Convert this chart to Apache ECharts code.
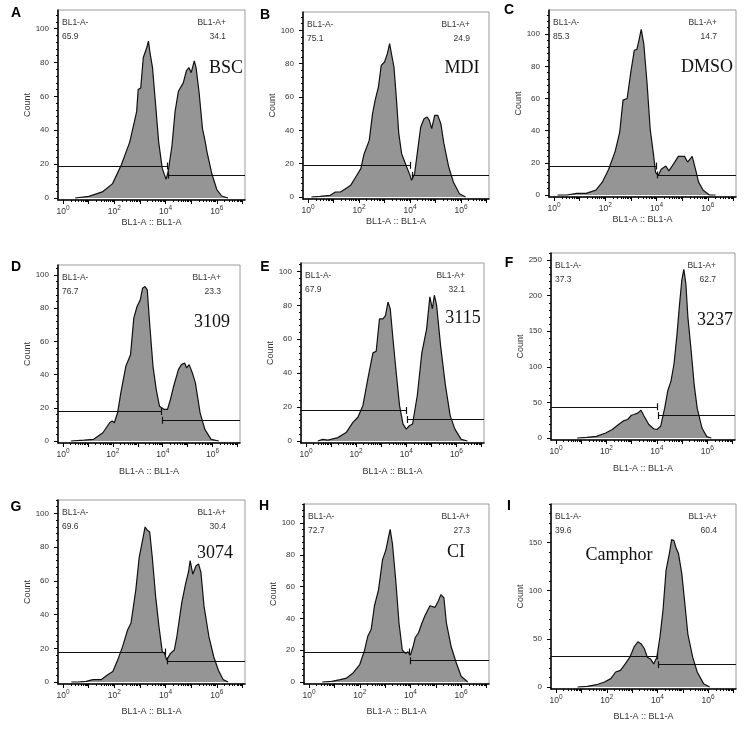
<!DOCTYPE html>
<html>
<head>
<meta charset="utf-8">
<script src="https://cdn.jsdelivr.net/npm/echarts@6/dist/echarts.min.js"></script>
<style>
html, body { margin: 0; padding: 0; background: #fff; }
#main { width: 756px; height: 739px; }
</style>
</head>
<body>
<div id="main"></div>
<script>
// panel letters, sample names and gate percentages
var letters = ['A', 'B', 'C', 'D', 'E', 'F', 'G', 'H', 'I'];
var samples = ['BSC', 'MDI', 'DMSO', '3109', '3115', '3237', '3074', 'CI', 'Camphor'];
var negPct = ['65.9', '75.1', '85.3', '76.7', '67.9', '37.3', '69.6', '72.7', '39.6'];
var posPct = ['34.1', '24.9', '14.7', '23.3', '32.1', '62.7', '30.4', '27.3', '60.4'];

// gate: [split (log10 BL1-A), BL1-A- line height, BL1-A+ line height]
var gates = [
    [4.05, 18.9, 13.5], [4.02, 19, 13], [3.98, 18, 12.5],
    [3.94, 17.8, 12.5], [4.0, 18, 12.7], [4.0, 43.9, 31.6],
    [4.0, 17.8, 12.6], [3.95, 18.9, 13.4], [4.0, 32.2, 23.2]
];

// y axis range / tick step of each panel
var yMax = [111, 111, 115, 106, 105, 260, 108, 112, 190];
var yStep = [20, 20, 20, 20, 20, 50, 20, 20, 50];

// histograms: [log10(BL1-A), count]
var histBSC = [[0.47,0],[1.0,1],[1.53,3.6],[1.93,8.5],[2.27,19.5],[2.6,33],[2.87,51],[2.93,64],[3.03,65],[3.13,83],[3.27,89],[3.33,92.6],[3.4,85],[3.49,77],[3.6,57],[3.73,33],[3.87,17.5],[4.02,11],[4.1,15.5],[4.25,31],[4.37,51],[4.5,63],[4.69,68],[4.81,75],[4.91,77],[5.0,74],[5.12,81],[5.19,77],[5.31,62],[5.44,41],[5.55,33],[5.62,27],[5.81,14],[6.0,5],[6.19,1.2],[6.44,0]];
var histMDI = [[0.13,0],[0.47,0.4],[0.87,1],[1.07,3],[1.27,3],[1.47,5],[1.67,7],[1.87,12],[2.07,17],[2.2,26],[2.4,34],[2.53,50],[2.63,58],[2.76,66],[2.87,79],[3.0,81],[3.11,86],[3.2,92],[3.27,86],[3.37,78],[3.47,58],[3.56,38],[3.67,26],[3.87,18],[4.0,13],[4.06,10],[4.18,14],[4.3,28],[4.42,42],[4.55,47],[4.67,48],[4.76,46],[4.85,41],[4.97,49],[5.09,49],[5.21,44],[5.33,32],[5.52,18],[5.7,9],[5.94,2],[6.18,0]];
var histDMSO = [[0.13,0],[0.5,0],[0.88,1],[1.25,1],[1.63,3],[1.88,8],[2.13,16],[2.38,27],[2.56,39],[2.69,59],[2.85,60],[3.0,77],[3.13,90],[3.23,90.5],[3.31,96],[3.4,103],[3.5,94],[3.63,69],[3.75,41],[3.88,25],[3.96,14],[4.06,12],[4.18,16],[4.36,18],[4.48,15],[4.67,19.5],[4.85,24],[5.09,24],[5.21,20.5],[5.39,24],[5.52,16],[5.64,8],[5.82,3],[6.06,0],[6.3,0]];
var hist3109 = [[0.32,0],[0.84,0.5],[1.23,1],[1.6,5],[1.87,11],[1.97,12],[2.06,11],[2.19,17],[2.32,29],[2.52,45],[2.71,52],[2.84,74],[2.97,81],[3.1,85],[3.19,92],[3.29,93],[3.38,91],[3.48,70],[3.61,45],[3.74,31],[3.87,21],[3.94,21],[4.06,19],[4.19,19],[4.31,25],[4.44,33],[4.63,43],[4.75,46],[4.88,47],[4.96,44],[5.06,46],[5.19,41],[5.31,35],[5.5,17],[5.69,7],[5.94,1],[6.25,0]];
var hist3115 = [[0.47,0],[0.67,1],[0.87,0.5],[1.27,2],[1.6,5],[1.87,11],[2.07,14],[2.27,21],[2.47,37],[2.67,52],[2.8,53],[2.93,72],[3.07,72],[3.17,74],[3.27,82],[3.36,78],[3.47,60],[3.6,40],[3.73,21],[3.87,10],[4.0,7],[4.12,9],[4.25,10],[4.44,27],[4.62,52],[4.81,66],[4.94,85],[5.04,78],[5.12,86],[5.21,80],[5.37,56],[5.56,33],[5.75,15],[5.94,7],[6.19,1],[6.44,0]];
var hist3237 = [[0.84,0],[1.22,1],[1.6,2.4],[1.97,7],[2.23,12],[2.48,19],[2.67,24],[2.84,26],[2.99,32],[3.09,33],[3.24,35],[3.37,39],[3.49,31],[3.68,19],[3.87,13],[4.0,12],[4.15,16.5],[4.31,42],[4.43,66],[4.56,80],[4.68,104],[4.8,146],[4.89,184],[4.99,222],[5.07,237],[5.15,217],[5.23,170],[5.36,123],[5.48,75],[5.6,42],[5.79,14],[5.98,2],[6.16,0]];
var hist3074 = [[0.32,0],[0.58,0],[0.9,0.4],[1.16,1.4],[1.48,1.4],[1.74,4.3],[1.94,6.3],[2.13,13],[2.32,21],[2.52,31],[2.65,35],[2.71,35],[2.84,55],[2.97,74],[3.1,84],[3.2,92],[3.29,90],[3.38,89],[3.48,74],[3.61,51],[3.74,33],[3.87,18],[3.96,17],[4.04,13],[4.19,17],[4.34,19],[4.44,27],[4.63,47],[4.79,59],[4.89,65],[4.96,72],[5.06,64],[5.19,69],[5.29,70],[5.38,65],[5.5,45],[5.69,27],[5.88,15],[6.06,7],[6.25,1.4],[6.44,0]];
var histCI = [[0.52,0],[0.9,0.4],[1.23,1.5],[1.48,2.5],[1.74,5.7],[2.0,11],[2.19,20],[2.32,29],[2.45,33],[2.58,48],[2.74,58],[2.9,77],[3.03,83],[3.12,90],[3.2,96],[3.29,87],[3.42,64],[3.55,37],[3.68,20],[3.81,18],[3.9,19],[4.0,17],[4.1,22],[4.19,28],[4.32,31],[4.45,37],[4.58,42],[4.77,48],[4.97,47],[5.1,51],[5.2,55],[5.32,53],[5.42,37],[5.61,22],[5.81,12],[6.0,3.6],[6.26,0]];
var histCamphor = [[0.85,0],[1.23,0.7],[1.6,2.4],[1.91,5.2],[2.16,8.7],[2.35,15.6],[2.54,17.3],[2.73,24],[2.91,31],[3.08,41.6],[3.23,47],[3.35,45],[3.48,40],[3.6,31],[3.73,29],[3.85,24],[3.98,31],[4.1,52],[4.22,80],[4.34,121],[4.47,138.5],[4.56,153],[4.65,152],[4.74,144],[4.83,138.5],[4.96,118],[5.08,87],[5.2,55],[5.39,31],[5.57,15.6],[5.82,3.5],[6.06,0]];

var hists = [histBSC, histMDI, histDMSO, hist3109, hist3115, hist3237, hist3074, histCI, histCamphor];

// plot boxes (px)
var boxes = [
    {l: 58, t: 10, w: 187, h: 190, gap: 18},
    {l: 303, t: 12, w: 186, h: 187, gap: 18},
    {l: 549, t: 10, w: 187, h: 187, gap: 18},
    {l: 58, t: 265, w: 182, h: 178, gap: 24},
    {l: 301, t: 263, w: 183, h: 180, gap: 24},
    {l: 551, t: 253, w: 184, h: 187, gap: 24},
    {l: 58, t: 500, w: 187, h: 184, gap: 23},
    {l: 304, t: 504, w: 185, h: 180, gap: 23},
    {l: 551, t: 504, w: 185, h: 185, gap: 23}
];
var letterPos = [[16, 13], [265, 15], [509, 10], [16, 267], [265, 267], [509, 263], [16, 507], [264, 506], [509, 506]];
var namePos = [[226, 68], [462, 68], [707, 67], [212, 322], [463, 318], [715, 320], [215, 553], [456, 552], [619, 555]];

var X_MIN = -0.2, X_MAX = 7.1;
var sans = 'Liberation Sans, Arial, sans-serif';

var xMajor = [0, 1, 2, 3, 4, 5, 6, 7];
var xMinor = [];
for (var d = 0; d < 7; d++) {
    for (var k = 2; k < 10; k++) xMinor.push(d + Math.log10(k));
}

var grids = [], xAxes = [], yAxes = [], series = [], graphics = [];

for (var i = 0; i < 9; i++) {
    var b = boxes[i];
    var yMin = -2 * yMax[i] / b.h;
    var yMajor = [], yMinor = [];
    for (var v = 0; v <= yMax[i]; v += yStep[i]) yMajor.push(v);
    for (var v2 = 0; v2 <= yMax[i]; v2 += yStep[i] / 5) yMinor.push(v2);

    grids.push({
        left: b.l, top: b.t, width: b.w, height: b.h,
        show: true, borderColor: '#9a9a9a', borderWidth: 1
    });

    xAxes.push({
        gridIndex: i, type: 'value', min: X_MIN, max: X_MAX, position: 'bottom',
        name: 'BL1-A :: BL1-A', nameLocation: 'middle', nameGap: b.gap,
        nameTextStyle: {fontSize: 9, color: '#333', fontFamily: sans},
        axisLine: {onZero: false, lineStyle: {color: '#000', width: 1.5}},
        axisTick: {customValues: xMajor, length: 4, lineStyle: {color: '#000', width: 1}},
        axisLabel: {
            customValues: [0, 2, 4, 6], margin: 5,
            formatter: function (val) { return '{b|10}{e|' + val + '}'; },
            rich: {
                b: {fontSize: 8.5, color: '#333', fontFamily: sans},
                e: {fontSize: 6.5, color: '#333', fontFamily: sans, padding: [0, 0, 7, 0]}
            }
        },
        splitLine: {show: false}
    });
    xAxes.push({
        gridIndex: i, type: 'value', min: X_MIN, max: X_MAX, position: 'bottom', offset: 0,
        axisLine: {show: false, onZero: false},
        axisTick: {customValues: xMinor, length: 2, lineStyle: {color: '#000', width: 1}},
        axisLabel: {show: false},
        splitLine: {show: false}
    });

    yAxes.push({
        gridIndex: i, type: 'value', min: yMin, max: yMax[i], position: 'left',
        name: 'Count', nameLocation: 'middle', nameGap: 26,
        nameTextStyle: {fontSize: 9, color: '#333', fontFamily: sans},
        axisLine: {onZero: false, lineStyle: {color: '#000', width: 1.5}},
        axisTick: {customValues: yMajor, length: 4, lineStyle: {color: '#000', width: 1}},
        axisLabel: {customValues: yMajor, margin: 9, fontSize: 8, color: '#333', fontFamily: sans},
        splitLine: {show: false}
    });
    yAxes.push({
        gridIndex: i, type: 'value', min: yMin, max: yMax[i], position: 'left', offset: 0,
        axisLine: {show: false, onZero: false},
        axisTick: {customValues: yMinor, length: 2, lineStyle: {color: '#000', width: 1}},
        axisLabel: {show: false},
        splitLine: {show: false}
    });

    var g = gates[i];
    var tk = 3.5 * yMax[i] / b.h;
    var s = g[0], s2 = g[0] + 0.05;
    series.push({
        type: 'line', xAxisIndex: 2 * i, yAxisIndex: 2 * i,
        data: hists[i], symbol: 'none', smooth: false,
        lineStyle: {color: '#111', width: 1.2},
        areaStyle: {color: '#959595', opacity: 1},
        markLine: {
            silent: true, symbol: ['none', 'none'], label: {show: false},
            lineStyle: {color: '#111', width: 1.2, type: 'solid'},
            data: [
                [{coord: [X_MIN, g[1]]}, {coord: [s, g[1]]}],
                [{coord: [s, g[1] - tk]}, {coord: [s, g[1] + tk]}],
                [{coord: [s2, g[2] - tk]}, {coord: [s2, g[2] + tk]}],
                [{coord: [s2, g[2]]}, {coord: [X_MAX, g[2]]}]
            ]
        }
    });

    var txt = function (x, y, t, align, font) {
        graphics.push({
            type: 'text', x: x, y: y, silent: true,
            style: {text: t, font: font, fill: '#333', align: align, verticalAlign: 'middle'}
        });
    };
    var small = '8.5px ' + sans;
    txt(b.l + 4, b.t + 13, 'BL1-A-', 'left', small);
    txt(b.l + 4, b.t + 27, negPct[i], 'left', small);
    txt(b.l + b.w - 19, b.t + 13, 'BL1-A+', 'right', small);
    txt(b.l + b.w - 19, b.t + 27, posPct[i], 'right', small);

    graphics.push({
        type: 'text', x: namePos[i][0], y: namePos[i][1], silent: true,
        style: {text: samples[i], font: '18px Liberation Serif, Times New Roman, serif', fill: '#111', align: 'center', verticalAlign: 'middle'}
    });
    graphics.push({
        type: 'text', x: letterPos[i][0], y: letterPos[i][1], silent: true,
        style: {text: letters[i], font: 'bold 14px ' + sans, fill: '#000', align: 'center', verticalAlign: 'middle'}
    });
}

var myChart = echarts.init(document.getElementById('main'));
myChart.setOption({
    animation: false,
    grid: grids,
    xAxis: xAxes,
    yAxis: yAxes,
    series: series,
    graphic: graphics
});
</script>
</body>
</html>
